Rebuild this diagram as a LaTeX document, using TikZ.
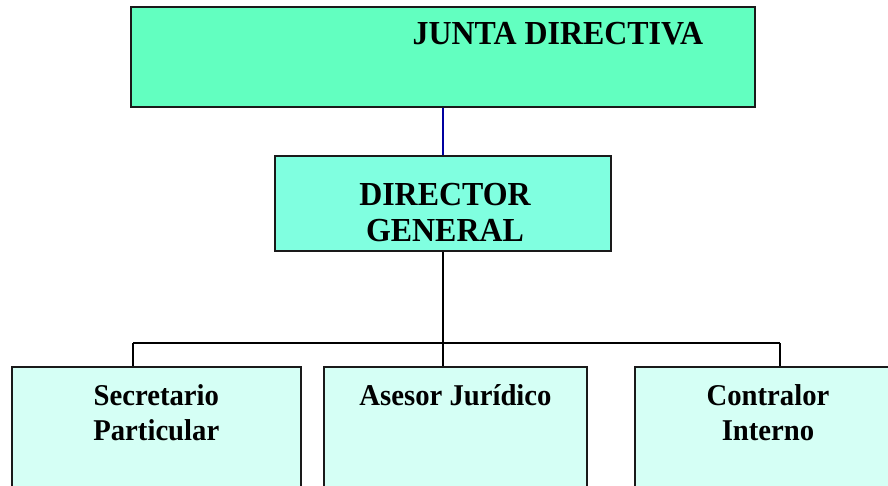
\documentclass[tikz,border=0pt]{standalone}
\usepackage{fontspec}
\setmainfont{Liberation Serif}[FakeStretch=0.95]
\definecolor{jdfill}{HTML}{62FFC0}
\definecolor{dgfill}{HTML}{80FFE0}
\definecolor{lowfill}{HTML}{D5FFF5}
\definecolor{bluelink}{HTML}{0000A0}
\definecolor{edge}{HTML}{1A1A1A}
\tikzset{
  orgbox/.style={draw=edge, line width=1.9pt, rectangle, inner sep=0pt},
  toptext/.style={font=\bfseries\fontsize{33.6}{36.7}\selectfont, anchor=base, align=center, inner sep=0pt},
  lowtext/.style={font=\bfseries\fontsize{30.2}{34.3}\selectfont, anchor=base, align=center, inner sep=0pt},
  link/.style={line width=1.9pt, black},
}
\begin{document}
\begin{tikzpicture}[x=1pt,y=-1pt]
\useasboundingbox (0,0) rectangle (888,485);
\clip (0,0) rectangle (888,485);
% boxes
\node[orgbox, fill=jdfill, minimum width=624pt, minimum height=100pt] (jd) at (443,57) {};
\node[orgbox, fill=dgfill, minimum width=336pt, minimum height=95.3pt] (dg) at (443,203.3) {};
\node[orgbox, fill=lowfill, minimum width=288.4pt, minimum height=137.7pt] (sp) at (156.5,436.2) {};
\node[orgbox, fill=lowfill, minimum width=263.3pt, minimum height=137.7pt] (aj) at (455.7,436.2) {};
\node[orgbox, fill=lowfill, minimum width=265pt, minimum height=137.7pt] (ci) at (767.5,436.2) {};
% texts (base anchor = baseline of the last line)
\node[toptext] (jdt) at (557.9,44.3) {JUNTA DIRECTIVA};
\node[toptext] (dgt) at (445,241.7) {DIRECTOR\\GENERAL};
\node[lowtext] (spt) at (156.3,440) {Secretario\\Particular};
\node[lowtext] (ajt) at (455.5,405.7) {Asesor Jurídico};
\node[lowtext] (cit) at (768,440) {Contralor\\Interno};
% connectors
\coordinate (d1) at (133,343.3);
\coordinate (d3) at (780,343.3);
\draw[line width=1.9pt, bluelink] (jd.south) -- (dg.north);
\draw[link] (dg.south) -- (dg.south |- aj.north);
\draw[link] (d1) -- (d3);
\draw[link] (d1) -- (d1 |- sp.north);
\draw[link] (d3) -- (d3 |- ci.north);
\end{tikzpicture}
\end{document}
